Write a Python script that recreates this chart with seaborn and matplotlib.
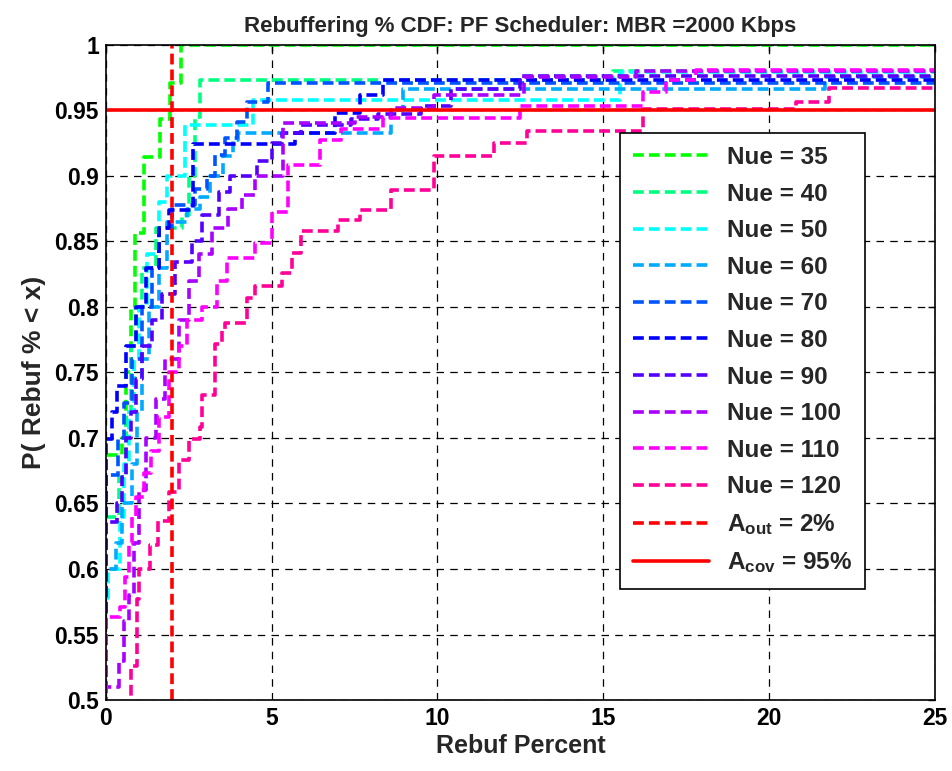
import matplotlib
matplotlib.use('Agg')
import matplotlib.pyplot as plt
import seaborn as sns
import pandas as pd

# step points (x = rebuf percent, y = CDF value)
nue_labels = ['Nue = 35', 'Nue = 40', 'Nue = 50', 'Nue = 60', 'Nue = 70',
              'Nue = 80', 'Nue = 90', 'Nue = 100', 'Nue = 110', 'Nue = 120']
nue_colors = ['#00ff00', '#00ff80', '#00ffff', '#00aaff', '#0055ff',
              '#0000ff', '#5500ff', '#aa00ff', '#ff00ff', '#ff0099']

x_35 = [0, 0, 0.5, 0.6, 0.75, 0.87, 1.15, 1.63, 1.93, 2.26, 30]
y_35 = [0, 0.687, 0.70, 0.75, 0.80, 0.856, 0.914, 0.943, 0.971, 1.0, 1.0]

x_40 = [0, 0, 0.4, 0.6, 0.75, 0.9, 1.1, 1.5, 2.3, 2.5, 2.7, 2.83, 15.3, 30]
y_40 = [0, 0.64, 0.67, 0.72, 0.77, 0.80, 0.83, 0.86, 0.87, 0.90, 0.945, 0.973, 0.98, 0.98]

x_50 = [0, 0, 0.07, 0.42, 0.55, 0.7, 0.85, 1.0, 1.25, 1.6, 1.85, 2.4, 4.43, 15.5, 30]
y_50 = [0, 0.578, 0.60, 0.64, 0.68, 0.72, 0.76, 0.80, 0.84, 0.88, 0.90, 0.939, 0.958, 0.979, 0.979]

x_60 = [0, 0, 0.3, 0.5, 0.8, 0.95, 1.1, 1.3, 1.6, 1.84, 2.44, 2.83, 3.13, 3.53, 3.83, 4.0, 8.6, 8.96, 21.7, 30]
y_60 = [0, 0.60, 0.62, 0.65, 0.68, 0.72, 0.76, 0.80, 0.83, 0.865, 0.875, 0.884, 0.90, 0.915, 0.927,
        0.933, 0.95, 0.966, 0.975, 0.975]

x_70 = [0, 0, 0.37, 0.55, 0.8, 1.1, 1.4, 1.6, 2.0, 2.7, 3.05, 3.3, 3.6, 3.95, 4.25, 4.9, 30]
y_70 = [0, 0.672, 0.70, 0.727, 0.76, 0.80, 0.83, 0.86, 0.878, 0.89, 0.90, 0.916, 0.929, 0.941,
        0.956, 0.971, 0.971]

x_80 = [0, 0, 0.2, 0.35, 0.6, 0.9, 1.2, 1.6, 1.9, 2.63, 5.7, 6.9, 7.66, 8.36, 30]
y_80 = [0, 0.699, 0.72, 0.74, 0.77, 0.80, 0.83, 0.86, 0.874, 0.924, 0.933, 0.948, 0.962, 0.973, 0.973]

x_90 = [0, 0, 0.35, 0.5, 0.6, 0.75, 0.9, 1.1, 1.4, 1.7, 2.1, 2.6, 2.9, 3.4, 3.74, 4.55, 5.0, 5.3,
        5.9, 7.4, 8.2, 9.5, 10.4, 12.5, 30]
y_90 = [0, 0.636, 0.65, 0.67, 0.70, 0.72, 0.745, 0.77, 0.79, 0.81, 0.834, 0.85, 0.87, 0.888, 0.90,
        0.911, 0.925, 0.933, 0.939, 0.943, 0.947, 0.953, 0.966, 0.976, 0.976]

x_100 = [0, 0, 0.4, 0.55, 0.7, 0.85, 1.0, 1.2, 1.5, 1.8, 2.2, 2.5, 2.8, 3.2, 3.7, 4.1, 4.5, 5.35,
         7.5, 8.6, 9.9, 12.6, 16.0, 30]
y_100 = [0, 0.51, 0.53, 0.56, 0.58, 0.62, 0.66, 0.70, 0.73, 0.76, 0.79, 0.82, 0.84, 0.86, 0.875,
         0.885, 0.90, 0.94, 0.945, 0.952, 0.962, 0.975, 0.98, 0.98]

x_110 = [0, 0, 0.42, 0.57, 0.7, 0.8, 0.9, 1.15, 1.35, 1.6, 1.9, 2.2, 2.44, 2.9, 3.35, 3.65, 4.5, 5.0,
         5.5, 6.45, 7.1, 8.35, 12.5, 16.2, 16.9, 17.8, 30]
y_110 = [0, 0.563, 0.571, 0.594, 0.62, 0.64, 0.655, 0.673, 0.69, 0.716, 0.75, 0.77, 0.79, 0.80,
         0.82, 0.837, 0.849, 0.872, 0.908, 0.927, 0.936, 0.944, 0.953, 0.964, 0.973, 0.981, 0.981]

x_120 = [0, 0.75, 0.93, 1.0, 1.33, 1.57, 1.9, 2.2, 2.5, 2.85, 2.9, 3.3, 3.5, 3.6, 4.25, 4.5, 4.55,
         5.3, 5.6, 5.9, 7.0, 7.66, 8.6, 9.9, 11.7, 12.7, 16.2, 20.8, 21.8, 30]
y_120 = [0.45, 0.526, 0.577, 0.60, 0.618, 0.637, 0.659, 0.683, 0.699, 0.708, 0.733, 0.772, 0.782,
         0.788, 0.807, 0.816, 0.816, 0.826, 0.841, 0.858, 0.866, 0.874, 0.889, 0.915, 0.925,
         0.934, 0.951, 0.956, 0.967, 0.974]

series_x = [x_35, x_40, x_50, x_60, x_70, x_80, x_90, x_100, x_110, x_120]
series_y = [y_35, y_40, y_50, y_60, y_70, y_80, y_90, y_100, y_110, y_120]

a_out = 2.0
a_cov = 0.95

sns.set_style('white')
plt.rcParams['font.family'] = ['Liberation Sans', 'DejaVu Sans']
plt.rcParams['font.weight'] = 'bold'
plt.rcParams['mathtext.fontset'] = 'custom'
plt.rcParams['mathtext.rm'] = 'Liberation Sans:bold'
plt.rcParams['mathtext.it'] = 'Liberation Sans:bold'
plt.rcParams['mathtext.bf'] = 'Liberation Sans:bold'
plt.rcParams['mathtext.default'] = 'regular'

fig = plt.figure(figsize=(9.53, 7.71), dpi=100)
ax = fig.add_axes([0.111, 0.092, 0.87, 0.85])

for label, color, xs, ys in zip(nue_labels, nue_colors, series_x, series_y):
    df = pd.DataFrame({'x': xs, 'y': ys})
    sns.lineplot(data=df, x='x', y='y', ax=ax, color=color, label=label,
                 estimator=None, sort=False, drawstyle='steps-post',
                 linewidth=2.6, dashes=False, linestyle=(0, (3, 1.4)))

ax.axvline(a_out, color='#ff0000', linewidth=2.6, linestyle=(0, (3, 1.4)),
           label='A$_{out}$ = 2%')
ax.axhline(a_cov, color='#ff0000', linewidth=2.6, label='A$_{cov}$ = 95%')

ax.set_xlim(0, 25)
ax.set_ylim(0.5, 1)
ax.set_xticks([0, 5, 10, 15, 20, 25])
ax.set_yticks([0.5, 0.55, 0.6, 0.65, 0.7, 0.75, 0.8, 0.85, 0.9, 0.95, 1.0])
ax.set_yticklabels(['0.5', '0.55', '0.6', '0.65', '0.7', '0.75', '0.8', '0.85', '0.9', '0.95', '1'])
ax.tick_params(direction='in', top=True, right=True, length=5, width=1,
               labelsize=16.5, colors='black', pad=5)
for t in ax.get_xticklabels() + ax.get_yticklabels():
    t.set_fontweight('bold')

ax.grid(True, color='black', linestyle=(0, (6, 5)), linewidth=0.9)
for s in ax.spines.values():
    s.set_color('black')
    s.set_linewidth(1.2)

ax.set_title('Rebuffering % CDF: PF Scheduler: MBR =2000 Kbps', fontsize=16,
             fontweight='bold', pad=9)
ax.set_xlabel('Rebuf Percent', fontsize=18, fontweight='bold', labelpad=3)
ax.set_ylabel('P( Rebuf % < x)', fontsize=19, fontweight='bold', labelpad=6)

leg = ax.legend(loc='upper left', bbox_to_anchor=(0.62, 0.866),
                handlelength=3.1, labelspacing=0.56, borderpad=0.55,
                handletextpad=0.75, borderaxespad=0, fancybox=False, framealpha=1,
                edgecolor='black', prop={'weight': 'bold', 'size': 17.5})
leg.get_frame().set_linewidth(1.2)

fig.savefig('out.png', dpi=100, facecolor='white')
